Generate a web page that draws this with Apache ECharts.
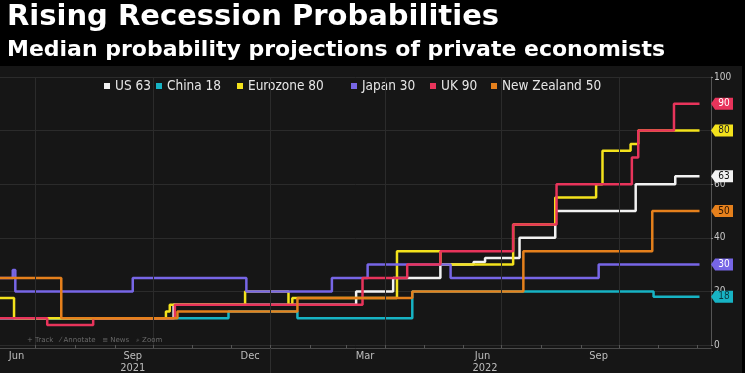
<!DOCTYPE html>
<html><head><meta charset="utf-8">
<script src="https://cdn.jsdelivr.net/npm/echarts@6/dist/echarts.min.js"></script>
<style>html,body{margin:0;padding:0;background:#000;}#c{width:745px;height:373px;}</style>
</head><body><div id="c"></div>
<script>
// ---------- data ----------
const titleText = 'Rising Recession Probabilities';
const subtitleText = 'Median probability projections of private economists';
const seriesNames = ['US 63', 'China 18', 'Eurozone 80', 'Japan 30', 'UK 90', 'New Zealand 50'];
const seriesColors = ['#f2f2f2', '#17b3c4', '#f3e21c', '#7766e6', '#e8345b', '#e5801c'];
const tagTextColors = ['#111', '#0b3b40', '#222', '#fff', '#fff', '#2a1400'];

const usSteps = [['2021-06-03',10],['2021-10-17',15],['2022-03-09',20],['2022-04-07',25],['2022-05-14',30],['2022-06-09',31],['2022-06-18',32.5],['2022-07-15',40],['2022-08-12',50],['2022-10-14',60],['2022-11-14',63],['2022-12-03',63]];
const chinaSteps = [['2021-06-03',10],['2021-11-29',12.5],['2022-01-22',10],['2022-04-22',20],['2022-10-28',18],['2022-12-03',18]];
const eurozoneSteps = [['2021-06-03',17.5],['2021-06-14',10],['2021-10-11',12.5],['2021-10-14',15],['2021-12-12',20],['2022-01-15',15],['2022-01-18',17.5],['2022-04-10',35],['2022-05-14',30],['2022-07-10',45],['2022-08-12',55],['2022-09-13',60],['2022-09-18',72.5],['2022-10-10',75],['2022-10-16',80],['2022-12-03',80]];
const japanSteps = [['2021-06-03',25],['2021-06-13',28],['2021-06-15',20],['2021-09-15',25],['2021-12-13',20],['2022-02-18',25],['2022-03-18',30],['2022-05-22',25],['2022-09-15',30],['2022-12-03',30]];
const ukSteps = [['2021-06-03',10],['2021-07-10',7.5],['2021-08-15',10],['2021-10-18',15],['2022-03-14',25],['2022-04-18',30],['2022-05-14',35],['2022-07-10',45],['2022-08-13',60],['2022-10-11',70],['2022-10-16',80],['2022-11-13',90],['2022-12-03',90]];
const nzSteps = [['2021-06-03',25],['2021-07-21',10],['2021-10-20',12.5],['2022-01-22',17.5],['2022-04-22',20],['2022-07-18',35],['2022-10-20',35],['2022-10-27',50],['2022-12-03',50]];
const allSteps = [usSteps, chinaSteps, eurozoneSteps, japanSteps, ukSteps, nzSteps];

const xStart = '2021-06-03';
const xEnd = '2022-12-12';
const monthTickDates = ['2021-07-01','2021-08-01','2021-09-01','2021-10-01','2021-11-01','2021-12-01','2022-01-01','2022-02-01','2022-03-01','2022-04-01','2022-05-01','2022-06-01','2022-07-01','2022-08-01','2022-09-01','2022-10-01','2022-11-01','2022-12-01'];
const gridLineDates = ['2021-07-01','2021-10-01','2022-01-01','2022-04-01','2022-07-01','2022-10-01'];
const monthLabelDates = ['2021-06-16','2021-09-15','2021-12-16','2022-03-16','2022-06-16','2022-09-15'];
const monthLabels = ['Jun','Sep','Dec','Mar','Jun','Sep'];
const yearLabelDates = ['2021-09-15','2022-06-18'];
const yearLabels = ['2021','2022'];
const yearDividerDates = ['2022-01-01'];
const yMin = 0, yMax = 100, yStep = 20;
const yAxisName = 'Percent';
const toolbarText = '+ Track   ⁄ Annotate   ≡ News   ⌕ Zoom';

// ---------- helpers ----------
function ts(s){ const p = s.split('-').map(Number); return Date.UTC(p[0], p[1]-1, p[2]); }
const monthLabelTs = monthLabelDates.map(ts);
const yearLabelTs = yearLabelDates.map(ts);
const FONT = '"DejaVu Sans", sans-serif';
const LFONT = '"DejaVu Sans Condensed", "DejaVu Sans", sans-serif';
function nearestLabel(v, tsList, labels){
  let best = -1, bd = Infinity;
  tsList.forEach((t, i) => { const d = Math.abs(t - v); if (d < bd) { bd = d; best = i; } });
  return bd < 86400000 ? labels[best] : '';
}

const chart = echarts.init(document.getElementById('c'), null, {renderer: 'canvas'});

const lineSeries = allSteps.map((steps, i) => {
  const last = steps[steps.length - 1];
  return {
    name: seriesNames[i],
    type: 'line',
    step: 'end',
    showSymbol: false,
    z: 3,
    data: steps.map(p => [ts(p[0]), p[1]]),
    lineStyle: {color: seriesColors[i], width: 2.5},
    itemStyle: {color: seriesColors[i]},
    markPoint: {
      silent: true,
      symbol: 'path://M0,6 L5,0 L27,0 L27,12 L5,12 Z',
      symbolSize: [22, 12],
      symbolOffset: [11, 0],
      itemStyle: {color: seriesColors[i]},
      label: {show: true, color: tagTextColors[i], fontSize: 10, fontFamily: LFONT, offset: [2, 0], formatter: '{c}'},
      data: [{coord: [ts(xEnd), last[1]], value: last[1]}]
    }
  };
});

const gridHelper = {
  name: '_grid', type: 'line', data: [], z: 1, silent: true,
  markLine: {
    silent: true, symbol: 'none', label: {show: false},
    lineStyle: {color: '#2b2b2b', width: 1, type: 'solid'},
    data: gridLineDates.map(d => ({xAxis: ts(d)}))
  }
};

// one legend per item so each sits where the reference has it
const legendLefts = [99, 151, 232, 346, 425, 486];
const legends = seriesNames.map((n, i) => ({
  data: [n], left: legendLefts[i], top: 74, icon: 'rect', itemWidth: 6, itemHeight: 6, itemGap: 0,
  selectedMode: false,
  textStyle: {color: '#e6e6e6', fontSize: 13.5, fontFamily: LFONT}
}));

chart.setOption({
  animation: false,
  backgroundColor: '#000',
  title: [
    {text: titleText, left: 2, top: -2, textStyle: {color: '#fff', fontSize: 29, fontWeight: 'bold', fontFamily: FONT}},
    {text: subtitleText, left: 2, top: 34, textStyle: {color: '#fff', fontSize: 22, fontWeight: 'bold', fontFamily: FONT}}
  ],
  graphic: [
    {type: 'rect', z: -10, silent: true, shape: {x: 0, y: 66, width: 742, height: 307}, style: {fill: '#161616'}},
    {type: 'text', z: 10, silent: true, left: 27, top: 337, style: {text: toolbarText, fill: '#6a6a6a', font: '7px ' + FONT}}
  ],
  legend: legends,
  grid: {left: 0, right: 34, top: 77, bottom: 28, containLabel: false, outerBoundsMode: 'none'},
  xAxis: [
    {
      type: 'value', min: ts(xStart), max: ts(xEnd), offset: 3,
      axisLine: {show: true, onZero: false, lineStyle: {color: '#4a4a4a', width: 1}},
      axisTick: {show: true, inside: true, length: 3, customValues: monthTickDates.map(ts), lineStyle: {color: '#555'}},
      axisLabel: {show: true, customValues: monthLabelTs, color: '#bdbdbd', fontSize: 11, fontFamily: LFONT, margin: 3,
        formatter: v => nearestLabel(v, monthLabelTs, monthLabels)},
      splitLine: {show: false}
    },
    {
      type: 'value', min: ts(xStart), max: ts(xEnd), position: 'bottom', offset: 3,
      axisLine: {show: false, onZero: false},
      axisTick: {show: true, inside: false, length: 25, customValues: yearDividerDates.map(ts), lineStyle: {color: '#2e2e2e'}},
      axisLabel: {show: true, customValues: yearLabelTs, color: '#bdbdbd', fontSize: 11, fontFamily: LFONT, margin: 15,
        formatter: v => nearestLabel(v, yearLabelTs, yearLabels)},
      splitLine: {show: false}
    }
  ],
  yAxis: {
    type: 'value', position: 'right', min: yMin, max: yMax, interval: yStep,
    name: yAxisName, nameLocation: 'middle', nameGap: 24, nameRotate: -90,
    nameTextStyle: {color: '#cfcfcf', fontSize: 11, fontFamily: FONT},
    axisLine: {show: true, lineStyle: {color: '#555'}},
    axisTick: {show: true, length: 2, lineStyle: {color: '#888'}},
    axisLabel: {color: '#c8c8c8', fontSize: 10, fontFamily: LFONT, margin: 3},
    splitLine: {show: true, lineStyle: {color: '#2b2b2b', width: 1}}
  },
  series: [gridHelper].concat(lineSeries)
});
</script></body></html>
